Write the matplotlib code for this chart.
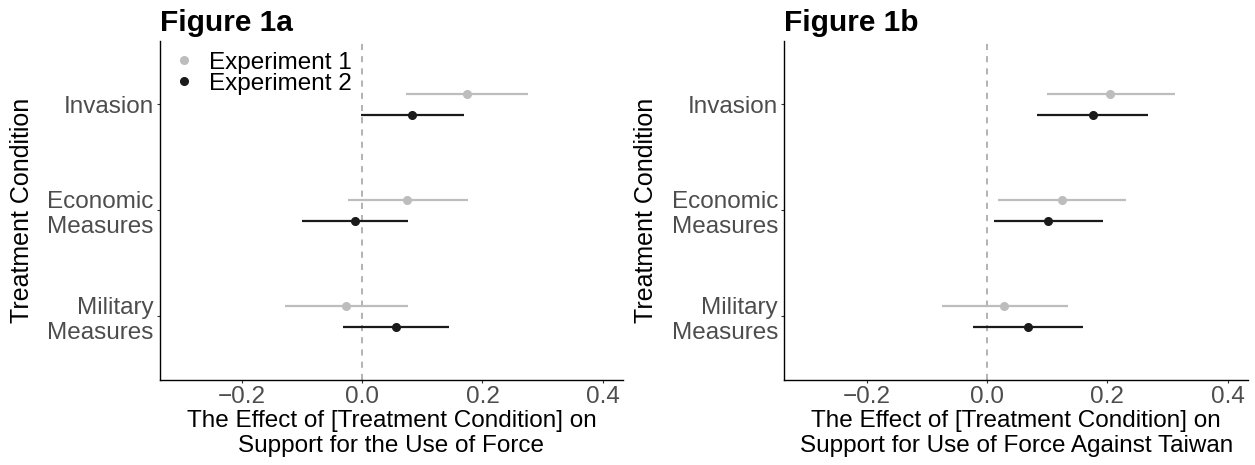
import matplotlib
matplotlib.use("Agg")
import matplotlib.pyplot as plt
from matplotlib.lines import Line2D

plt.rcParams['font.family'] = ['Liberation Sans', 'DejaVu Sans']

categories = ["Invasion", "Economic\nMeasures", "Military\nMeasures"]
series = ["Experiment 1", "Experiment 2"]

# Figure 1a
a_exp1_est = [0.174, 0.075, -0.027]
a_exp1_lo = [0.073, -0.024, -0.129]
a_exp1_hi = [0.276, 0.176, 0.076]
a_exp2_est = [0.083, -0.013, 0.056]
a_exp2_lo = [-0.003, -0.100, -0.033]
a_exp2_hi = [0.170, 0.076, 0.145]

# Figure 1b
b_exp1_est = [0.205, 0.125, 0.029]
b_exp1_lo = [0.099, 0.019, -0.075]
b_exp1_hi = [0.312, 0.231, 0.134]
b_exp2_est = [0.176, 0.102, 0.068]
b_exp2_lo = [0.083, 0.011, -0.024]
b_exp2_hi = [0.268, 0.193, 0.160]

xticks = [-0.2, 0.0, 0.2, 0.4]
xticklabels = ["\u22120.2", "0.0", "0.2", "0.4"]

c1 = "#BDBDBD"
c2 = "#1A1A1A"
tick_col = "#4D4D4D"

fig = plt.figure(figsize=(12.55, 4.65), dpi=100)
W, H = 1255, 465
axes_px = [(160, 623), (784.3, 1248)]
top_px, bot_px = 40.7, 380

panels = [
    ("Figure 1a", a_exp1_est, a_exp1_lo, a_exp1_hi, a_exp2_est, a_exp2_lo, a_exp2_hi,
     "The Effect of [Treatment Condition] on\nSupport for the Use of Force", True),
    ("Figure 1b", b_exp1_est, b_exp1_lo, b_exp1_hi, b_exp2_est, b_exp2_lo, b_exp2_hi,
     "The Effect of [Treatment Condition] on\nSupport for Use of Force Against Taiwan", False),
]

ypos = [3, 2, 1]
off = 0.1

for (l, r), (title, e1, lo1, hi1, e2, lo2, hi2, xlab, leg) in zip(axes_px, panels):
    ax = fig.add_axes([l / W, 1 - bot_px / H, (r - l) / W, (bot_px - top_px) / H])
    ax.axvline(0, color="#9E9E9E", lw=1.1, ls=(0, (4, 4)), zorder=1)
    y1 = [y + off for y in ypos]
    y2 = [y - off for y in ypos]
    ax.hlines(y1, lo1, hi1, color=c1, lw=1.6, zorder=2)
    ax.plot(e1, y1, 'o', color=c1, ms=5.5, zorder=3)
    ax.hlines(y2, lo2, hi2, color=c2, lw=1.6, zorder=2)
    ax.plot(e2, y2, 'o', color=c2, ms=5.5, zorder=3)
    ax.set_xlim(-0.337, 0.434)
    ax.set_ylim(0.4, 3.6)
    ax.set_xticks(xticks)
    ax.set_xticklabels(xticklabels)
    ax.set_yticks(ypos)
    ax.set_yticklabels(categories, linespacing=1.2)
    ax.tick_params(axis='both', labelsize=17.5, colors=tick_col, length=2.5, width=0.8, pad=2)
    ax.tick_params(axis='both', color="#333333")
    for s in ["top", "right"]:
        ax.spines[s].set_visible(False)
    for s in ["left", "bottom"]:
        ax.spines[s].set_linewidth(1.0)
        ax.spines[s].set_color("black")
    ax.set_xlabel(xlab, fontsize=17.5, color="black", labelpad=1, linespacing=1.2)
    fig.text((l - 138) / W, 1 - ((top_px + bot_px) / 2) / H, "Treatment Condition",
             rotation=90, ha="center", va="center", fontsize=18, color="black")
    ax.set_title(title, loc="left", fontsize=21.5, fontweight="bold", pad=7)
    if leg:
        handles = [Line2D([], [], marker='o', ls='none', color=c1, ms=5.5),
                   Line2D([], [], marker='o', ls='none', color=c2, ms=5.5)]
        ax.legend(handles, series, loc="upper left", bbox_to_anchor=(0.0, 1.003),
                  frameon=False, fontsize=17.5, handlelength=1.0, handletextpad=0.5,
                  labelspacing=-0.05, borderaxespad=0.3, borderpad=0.2)

fig.savefig("out.png", dpi=100)
